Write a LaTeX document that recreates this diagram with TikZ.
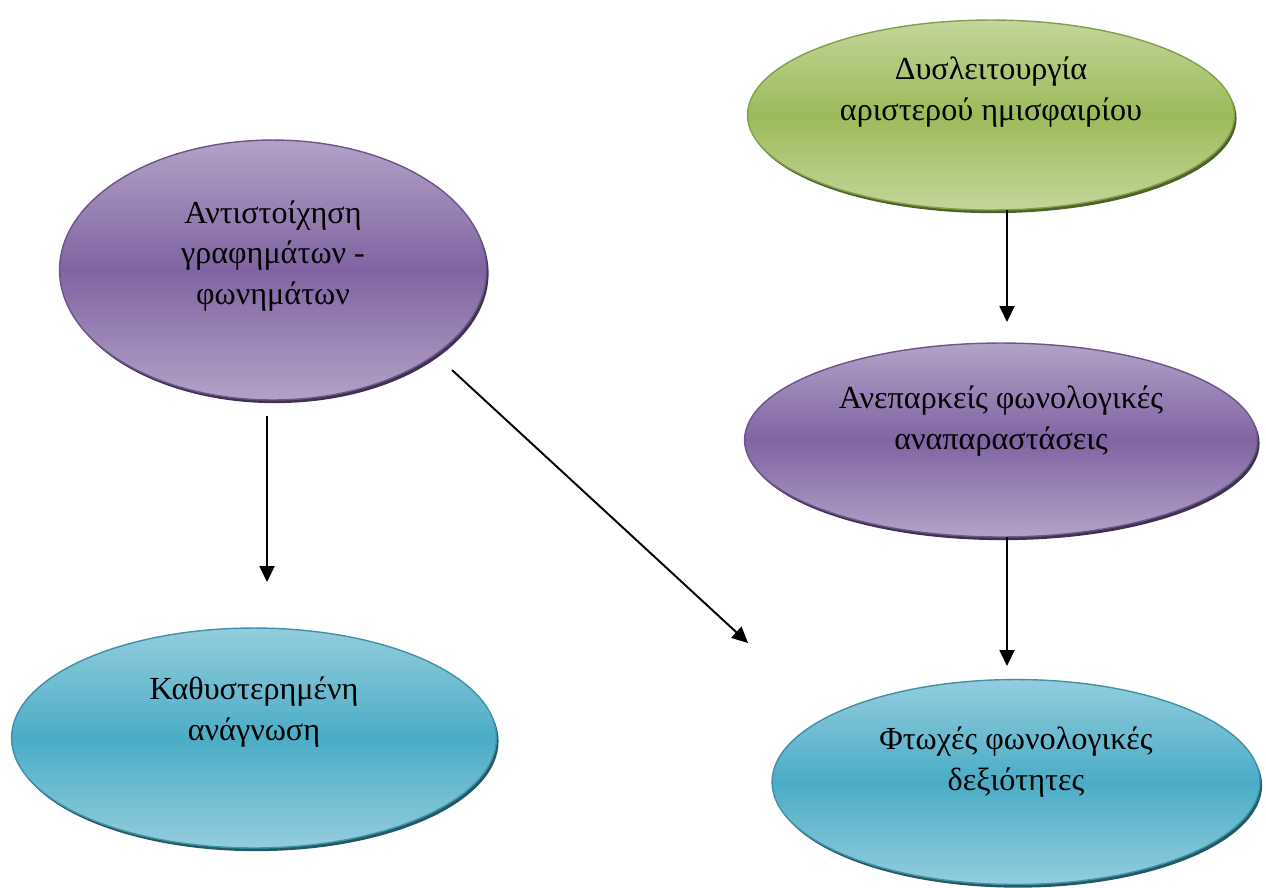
\documentclass[tikz,border=0pt]{standalone}
\usepackage{fontspec}
\setmainfont{Liberation Serif}
\usetikzlibrary{shapes.geometric,arrows.meta,shadows}

\definecolor{purpleL}{HTML}{B3A2C7}
\definecolor{purpleM}{HTML}{8064A2}
\definecolor{purpleD}{HTML}{3F3151}
\definecolor{greenL}{HTML}{C3D69B}
\definecolor{greenM}{HTML}{9BBB59}
\definecolor{greenD}{HTML}{4F6228}
\definecolor{tealL}{HTML}{93CDDD}
\definecolor{tealM}{HTML}{4BACC6}
\definecolor{tealD}{HTML}{215967}

\tikzset{
  blob/.style={ellipse, inner sep=0pt, outer sep=0pt, line width=0.8pt},
  purplebox/.style={blob, draw=purpleM!85!black, top color=purpleL, bottom color=purpleL, middle color=purpleM,
    drop shadow={shadow xshift=1.2pt, shadow yshift=-1.8pt, fill=purpleD, opacity=1}},
  greenbox/.style={blob, draw=greenM!85!black, top color=greenL, bottom color=greenL, middle color=greenM,
    drop shadow={shadow xshift=1.2pt, shadow yshift=-1.8pt, fill=greenD, opacity=1}},
  tealbox/.style={blob, draw=tealM!85!black, top color=tealL, bottom color=tealL, middle color=tealM,
    drop shadow={shadow xshift=1.2pt, shadow yshift=-1.8pt, fill=tealD, opacity=1}},
  txt/.style={align=center, font=\fontsize{18.3}{23}\selectfont},
  arr/.style={line width=1.1pt, -{Triangle[length=0.32cm,width=0.3cm]}}
}

\begin{document}
\begin{tikzpicture}[x=0.02cm, y=-0.02cm]
\useasboundingbox (0,0) rectangle (1266,887);

\node[greenbox, minimum width=9.74cm, minimum height=3.8cm] (left) at (991,115) {};
\node[txt] (leftt) at (991,92) {Δυσλειτουργία\\αριστερού ημισφαιρίου};

\node[purplebox, minimum width=8.54cm, minimum height=5.2cm] (map) at (273,270) {};
\node[txt] (mapt) at (273,256) {Αντιστοίχηση\\γραφημάτων -\\φωνημάτων};

\node[purplebox, minimum width=10.26cm, minimum height=3.88cm] (rep) at (1001,440) {};
\node[txt] (rept) at (1001,421) {Ανεπαρκείς φωνολογικές\\αναπαραστάσεις};

\node[tealbox, minimum width=9.7cm, minimum height=4.4cm] (slow) at (254,738) {};
\node[txt] (slowt) at (254,712) {Καθυστερημένη\\ανάγνωση};

\node[tealbox, minimum width=9.76cm, minimum height=4.1cm] (poor) at (1016,782) {};
\node[txt] (poort) at (1016,762) {Φτωχές φωνολογικές\\δεξιότητες};

\coordinate (e1) at (1007,322);
\coordinate (e2) at (1007,666);
\coordinate (e3) at (267,582);
\coordinate (d0) at (452,370);
\coordinate (d1) at (748,643);

\draw[arr] (left.south -| e1) -- (e1);
\draw[arr] (rep.south -| e2) -- (e2);
\draw[arr, shorten <=0.32cm] (map.south -| e3) -- (e3);
\draw[arr] (d0) -- (d1);
\end{tikzpicture}
\end{document}
